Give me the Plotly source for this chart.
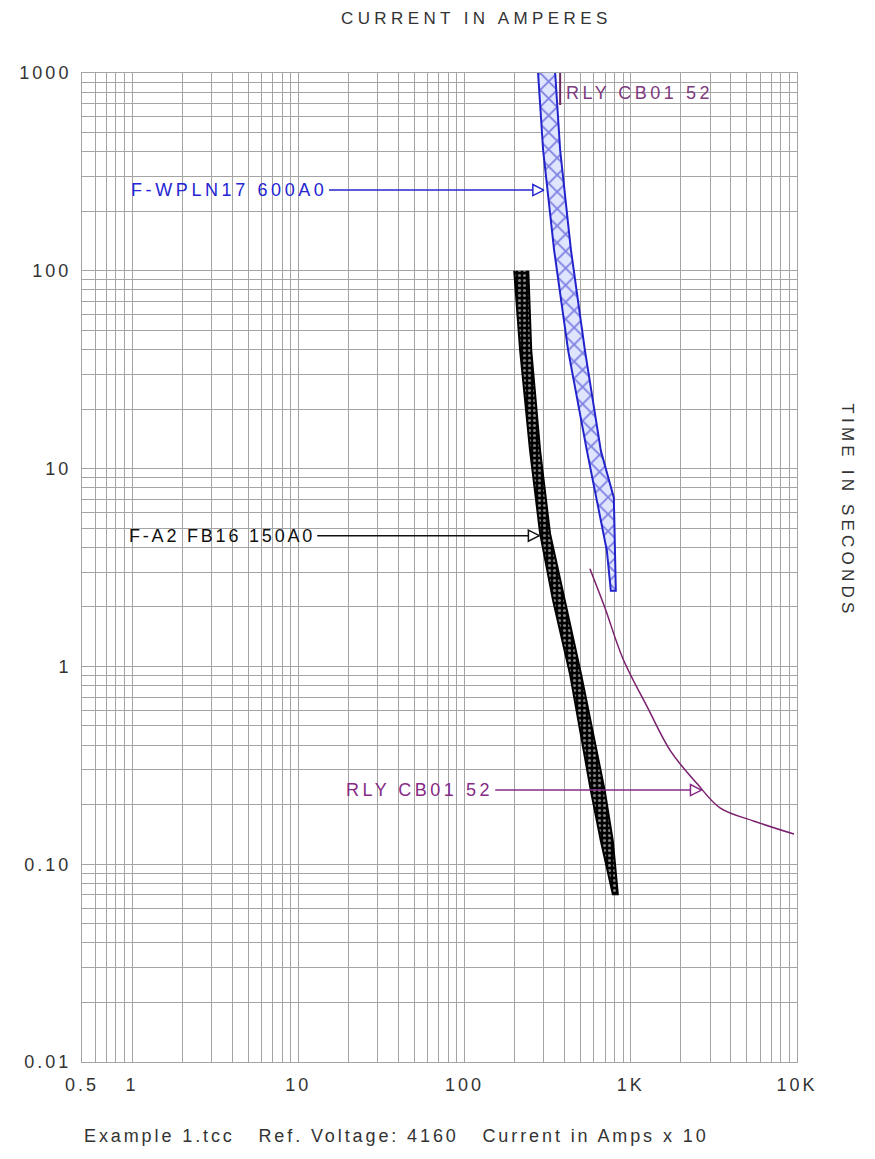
import math
import plotly.graph_objects as go

# ---- Device curves (current in amps x10, time in seconds) ----
# Fuse F-WPLN17 600A0: minimum-melt (left) and total-clearing (right) edges
fwpln_left_i = [277, 297, 346, 420, 545, 626, 718, 759]
fwpln_left_t = [1000, 408, 127, 39.6, 12.3, 6.89, 3.85, 2.41]
fwpln_right_i = [351, 376, 437, 530, 661, 791, 813]
fwpln_right_t = [1000, 408, 127, 39.6, 12.3, 7.13, 2.41]

# Fuse F-A2 FB16 150A0
fa2_left_i = [199, 216, 248, 285, 341, 431, 576, 661, 780]
fa2_left_t = [100, 39.6, 12.3, 4.69, 2.15, 0.916, 0.234, 0.131, 0.0705]
fa2_right_i = [242, 252, 285, 327, 403, 502, 698, 780, 836]
fa2_right_t = [100, 39.6, 12.3, 4.69, 2.15, 0.916, 0.234, 0.131, 0.0705]

# Relay RLY CB01 52: inverse-time curve and the short vertical segment at the top
rly_i = [568, 699, 895, 1265, 1737, 2519, 3459, 5530, 9590]
rly_t = [3.12, 1.98, 1.10, 0.617, 0.373, 0.254, 0.192, 0.165, 0.142]
rly_top_i = [376, 376]
rly_top_t = [689, 1000]

# Device labels with leader lines: (text, leader start current, tip current, time, colour, tracking)
labels = [
    ("F-WPLN17 600A0", 15.3, 300, 256, "#2424d2", 3.6),
    ("F-A2 FB16 150A0", 13.0, 282, 4.58, "#111111", 2.8),
    ("RLY CB01 52", 153, 2662, 0.237, "#862a86", 3.5),
]

# ---- Axis ticks ----
x_tickvals = [0.5, 1, 10, 100, 1000, 10000]
x_ticktext = ["0.5", "1", "10", "100", "1K", "10K"]
y_tickvals = [0.01, 0.1, 1, 10, 100, 1000]
y_ticktext = ["0.01", "0.10", "1", "10", "100", "1000"]

x_minor = [k * 10 ** e for e in range(-1, 4) for k in range(1, 10) if 0.5 <= k * 10 ** e <= 10000]
y_minor = [k * 10 ** e for e in range(-2, 3) for k in range(1, 10)]

FONT = "Liberation Sans, Arial, sans-serif"
GRID = "#a4a4a4"
TXT = "#333333"


def spaced(s, px):
    return f'<span style="letter-spacing:{px}px">{s}</span>'


fig = go.Figure()

# F-WPLN17 band: cross-hatched
fig.add_trace(go.Scatter(
    x=fwpln_left_i + fwpln_right_i[::-1],
    y=fwpln_left_t + fwpln_right_t[::-1],
    mode="lines", fill="toself",
    line=dict(color="#2323cc", width=2),
    fillcolor="#dde3ff",
    fillpattern=dict(shape="x", fgcolor="#2020c4", bgcolor="#dfe4ff", size=12, solidity=0.28),
    hoverinfo="skip", showlegend=False,
))

# F-A2 band: black with white dots
fig.add_trace(go.Scatter(
    x=fa2_left_i + fa2_right_i[::-1],
    y=fa2_left_t + fa2_right_t[::-1],
    mode="lines", fill="toself",
    line=dict(color="#000000", width=2),
    fillcolor="#000000",
    fillpattern=dict(shape=".", fgcolor="#ffffff", bgcolor="#000000", size=5, solidity=0.3),
    hoverinfo="skip", showlegend=False,
))

# Relay curve
fig.add_trace(go.Scatter(
    x=rly_i, y=rly_t, mode="lines",
    line=dict(color="#7a1f6e", width=1.5, shape="spline", smoothing=1.0),
    hoverinfo="skip", showlegend=False,
))
fig.add_trace(go.Scatter(
    x=rly_top_i, y=rly_top_t, mode="lines",
    line=dict(color="#6a2a5e", width=2),
    hoverinfo="skip", showlegend=False,
))

# Leader lines with open arrowheads and their labels
for text, x0, x1, t, col, track in labels:
    fig.add_trace(go.Scatter(
        x=[x0, x1], y=[t, t], mode="lines",
        line=dict(color=col, width=1.5),
        hoverinfo="skip", showlegend=False,
    ))
    fig.add_trace(go.Scatter(
        x=[x1], y=[t], mode="markers",
        marker=dict(symbol="arrow-right", size=11, color="white", line=dict(color=col, width=1.5)),
        hoverinfo="skip", showlegend=False,
    ))
    fig.add_annotation(
        x=math.log10(x0), y=math.log10(t), xref="x", yref="y",
        text=spaced(text, track), showarrow=False, xanchor="right", yanchor="middle",
        font=dict(family=FONT, size=18, color=col),
    )

fig.add_annotation(
    x=math.log10(rly_top_i[0]), y=math.log10(792), xref="x", yref="y",
    text=spaced("RLY CB01 52", 3.5), showarrow=False, xanchor="left", yanchor="middle",
    xshift=4, font=dict(family=FONT, size=18, color="#7d3a7d"),
)

# Axis titles and caption
fig.add_annotation(
    x=0.552, y=1.0556, xref="paper", yref="paper",
    text=spaced("CURRENT IN AMPERES", 4.4), showarrow=False,
    xanchor="center", yanchor="middle", font=dict(family=FONT, size=17, color=TXT),
)
fig.add_annotation(
    x=1.071, y=0.558, xref="paper", yref="paper",
    text=spaced("TIME IN SECONDS", 4.2), showarrow=False, textangle=90,
    xanchor="center", yanchor="middle", font=dict(family=FONT, size=17, color=TXT),
)
fig.add_annotation(
    x=0.0, y=-0.0748, xref="paper", yref="paper",
    text=spaced("Example 1.tcc   Ref. Voltage: 4160   Current in Amps x 10", 2.9),
    showarrow=False, xanchor="left", yanchor="middle",
    font=dict(family=FONT, size=18, color=TXT),
)

axis_common = dict(
    type="log", showgrid=True, gridcolor=GRID, gridwidth=1,
    zeroline=False, showline=True, linecolor=GRID, linewidth=1, mirror=True,
    ticks="", tickfont=dict(family=FONT, size=18, color=TXT),
    tickmode="array",
)

fig.update_layout(
    width=875, height=1159,
    margin=dict(l=82, r=78, t=73, b=97),
    paper_bgcolor="white", plot_bgcolor="white",
    showlegend=False,
    xaxis=dict(
        **axis_common,
        range=[math.log10(0.5), 4],
        tickvals=x_tickvals, ticktext=[spaced(s, 3) for s in x_ticktext],
        ticklabelstandoff=6,
        minor=dict(tickmode="array", tickvals=x_minor, showgrid=True, gridcolor=GRID, gridwidth=1, ticks=""),
    ),
    yaxis=dict(
        **axis_common,
        range=[-2, 3],
        tickvals=y_tickvals, ticktext=[spaced(s, 3) for s in y_ticktext],
        ticklabelstandoff=6,
        minor=dict(tickmode="array", tickvals=y_minor, showgrid=True, gridcolor=GRID, gridwidth=1, ticks=""),
    ),
)

fig.write_html("out.html")
